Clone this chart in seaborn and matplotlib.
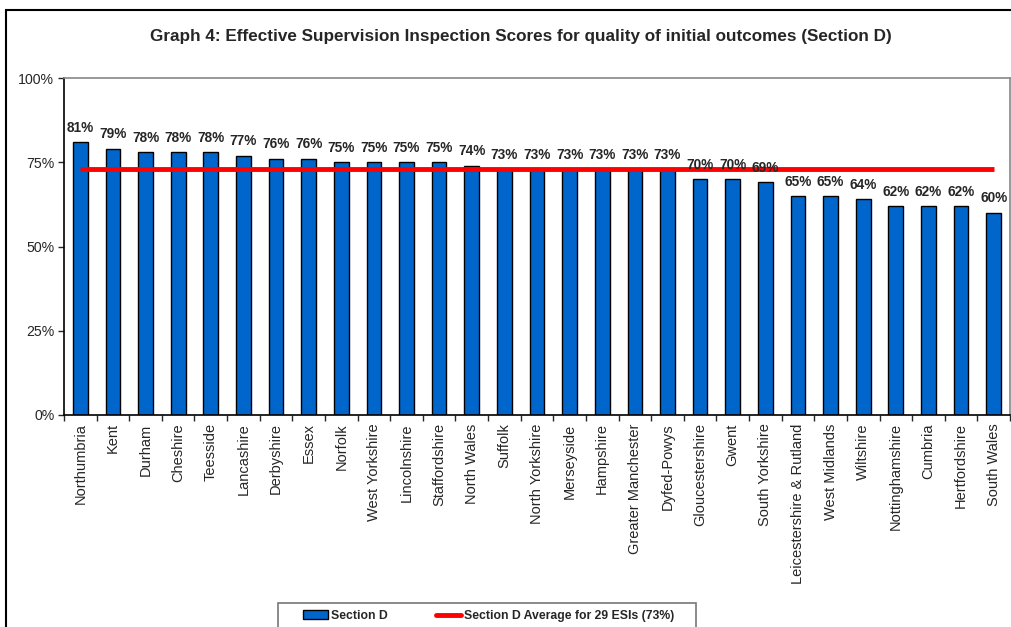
import matplotlib
matplotlib.use("Agg")
import matplotlib.pyplot as plt
import seaborn as sns
import pandas as pd
from matplotlib.patches import Rectangle, Patch
from matplotlib.lines import Line2D
from matplotlib.ticker import FixedLocator, PercentFormatter

regions = ["Northumbria", "Kent", "Durham", "Cheshire", "Teesside", "Lancashire",
           "Derbyshire", "Essex", "Norfolk", "West Yorkshire", "Lincolnshire",
           "Staffordshire", "North Wales", "Suffolk", "North Yorkshire", "Merseyside",
           "Hampshire", "Greater Manchester", "Dyfed-Powys", "Gloucestershire", "Gwent",
           "South Yorkshire", "Leicestershire & Rutland", "West Midlands", "Wiltshire",
           "Nottinghamshire", "Cumbria", "Hertfordshire", "South Wales"]
scores = [81, 79, 78, 78, 78, 77, 76, 76, 75, 75, 75, 75, 74, 73, 73, 73, 73, 73, 73,
          70, 70, 69, 65, 65, 64, 62, 62, 62, 60]
average = 73
yticks = [0, 25, 50, 75, 100]

sns.set_style("white")
plt.rcParams['font.family'] = ['Liberation Sans', 'DejaVu Sans']

df = pd.DataFrame({"region": regions, "score": scores})

fig = plt.figure(figsize=(10.12, 6.27), dpi=100)
ax = fig.add_axes([64/1012, 1-415/627, (1010-64)/1012, (415-78)/627])

bar_color = "#0066CC"
sns.barplot(data=df, x="region", y="score", color=bar_color, edgecolor="black",
            linewidth=1.0, width=0.45, saturation=1, ax=ax)

xs = list(range(len(regions)))
ax.plot(xs, [average] * len(xs), color="#FF0000", linewidth=3.5, zorder=5,
        solid_capstyle="butt")

for x, v in zip(xs, scores):
    ax.text(x, v + 2.2, f"{v}%", ha="center", va="bottom", fontsize=9.8,
            fontweight="bold", zorder=6)

ax.set_ylim(0, 100)
ax.set_xlim(-0.5, len(regions) - 0.5)
ax.yaxis.set_major_locator(FixedLocator(yticks))
ax.yaxis.set_major_formatter(PercentFormatter(decimals=0))
ax.tick_params(axis="y", labelsize=10.2, length=4, width=1, direction="out", left=True, pad=3)
ax.set_xticks(xs)
ax.set_xticklabels(regions, rotation=90, fontsize=10.5)
ax.set_xticks([x - 0.5 for x in range(len(regions) + 1)], minor=True)
ax.tick_params(axis="x", which="major", length=0, pad=6)
ax.tick_params(axis="x", which="minor", length=4, width=1, direction="out", bottom=True)
ax.set_xlabel("")
ax.set_ylabel("")

for side in ["left", "bottom"]:
    ax.spines[side].set_color("black")
    ax.spines[side].set_linewidth(1.2)
for side in ["top", "right"]:
    ax.spines[side].set_color("#888888")
    ax.spines[side].set_linewidth(1.2)
    ax.spines[side].set_visible(True)

fig.text(521/1012, 1-37/627, "Graph 4: Effective Supervision Inspection Scores for quality of initial outcomes (Section D)",
         ha="center", va="center", fontsize=12.3, fontweight="bold")

# outer chart frame
fig.patches.append(Rectangle((6/1012, -0.05), 1.1, 1.05 - 10/627,
                             transform=fig.transFigure, fill=False,
                             edgecolor="black", linewidth=1.5, zorder=0))

# legend frame
fig.patches.append(Rectangle((278/1012, -0.05), (696-278)/1012, 0.05 + 1 - 603/627,
                             transform=fig.transFigure, fill=False,
                             edgecolor="#777777", linewidth=1.2, zorder=1))

handles = [Patch(facecolor=bar_color, edgecolor="black", linewidth=1.0),
           Line2D([0], [0], color="#FF0000", linewidth=3.5)]
labels = ["Section D", f"Section D Average for 29 ESIs ({average}%)"]
leg = fig.legend(handles, labels, ncol=2, loc="center left",
                 bbox_to_anchor=(303/1012, 1-616/627), prop={"weight": "bold", "size": 8.8},
                 frameon=False, borderpad=0, columnspacing=3.9,
                 handlelength=2.05, handleheight=0.7, handletextpad=0.25, borderaxespad=0)

fig.savefig("out.png", dpi=100)
